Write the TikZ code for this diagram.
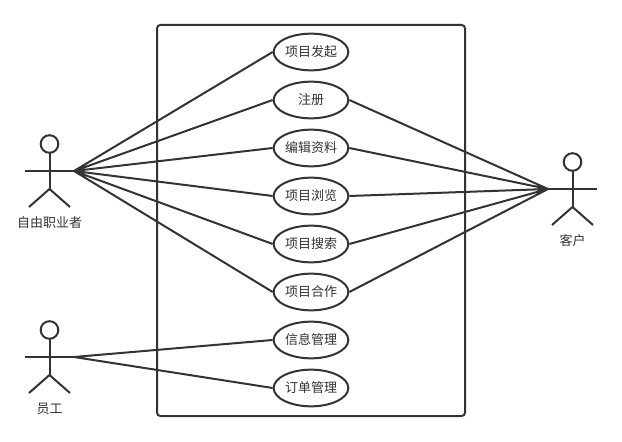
\documentclass[tikz,border=0pt]{standalone}
\usepackage{fontspec}
\setmainfont{Noto Sans CJK SC}
\usetikzlibrary{shapes.geometric}
\definecolor{umlline}{HTML}{333333}
\tikzset{
  usecase/.style={draw=umlline, ellipse, line width=1.5pt, minimum width=56pt, minimum height=27.5pt, inner sep=0pt, font=\fontsize{9.75pt}{11pt}\selectfont, text=umlline},
  actorname/.style={font=\fontsize{9.75pt}{11pt}\selectfont, text=umlline, inner sep=0pt},
  actor/.pic={
    \draw[umlline, line width=1.5pt] (0,-27) circle (6.6pt);
    \draw[umlline, line width=1.5pt] (0,-18) -- (0,18) (-24.5,0) -- (24.5,0);
    \draw[umlline, line width=1.5pt] (-20.5,36) -- (0,18) -- (20.5,36);
    \coordinate (-lefthand) at (-24.5,0);
    \coordinate (-righthand) at (24.5,0);
  },
}
\begin{document}
\begin{tikzpicture}[x=0.75pt, y=-0.75pt]
  \useasboundingbox (0,0) rectangle (622,442);
  \draw[umlline, line width=1.5pt, rounded corners=2.5pt] (157,25) rectangle (465,416);

  \node[usecase] (faqi) at (311,52) {项目发起};
  \node[usecase] (zhuce) at (311,100) {注册};
  \node[usecase] (bianji) at (311,148) {编辑资料};
  \node[usecase] (liulan) at (311,196) {项目浏览};
  \node[usecase] (sousuo) at (311,244) {项目搜索};
  \node[usecase] (hezuo) at (311,292) {项目合作};
  \node[usecase] (xinxi) at (311,340) {信息管理};
  \node[usecase] (dingdan) at (311,388) {订单管理};

  \pic (freelancer) at (49.5,171) {actor};
  \pic (staff) at (49.5,357) {actor};
  \pic (client) at (572.5,189) {actor};
  \node[actorname] (freelancername) at (49.5,222.5) {自由职业者};
  \node[actorname] (staffname) at (49.5,408.5) {员工};
  \node[actorname] (clientname) at (572.5,240.5) {客户};

  \draw[umlline, line width=1.5pt]
    (freelancer-righthand) -- (faqi.west)
    (freelancer-righthand) -- (zhuce.west)
    (freelancer-righthand) -- (bianji.west)
    (freelancer-righthand) -- (liulan.west)
    (freelancer-righthand) -- (sousuo.west)
    (freelancer-righthand) -- (hezuo.west)
    (staff-righthand) -- (xinxi.west)
    (staff-righthand) -- (dingdan.west)
    (client-lefthand) -- (zhuce.east)
    (client-lefthand) -- (bianji.east)
    (client-lefthand) -- (liulan.east)
    (client-lefthand) -- (sousuo.east)
    (client-lefthand) -- (hezuo.east);
\end{tikzpicture}
\end{document}
